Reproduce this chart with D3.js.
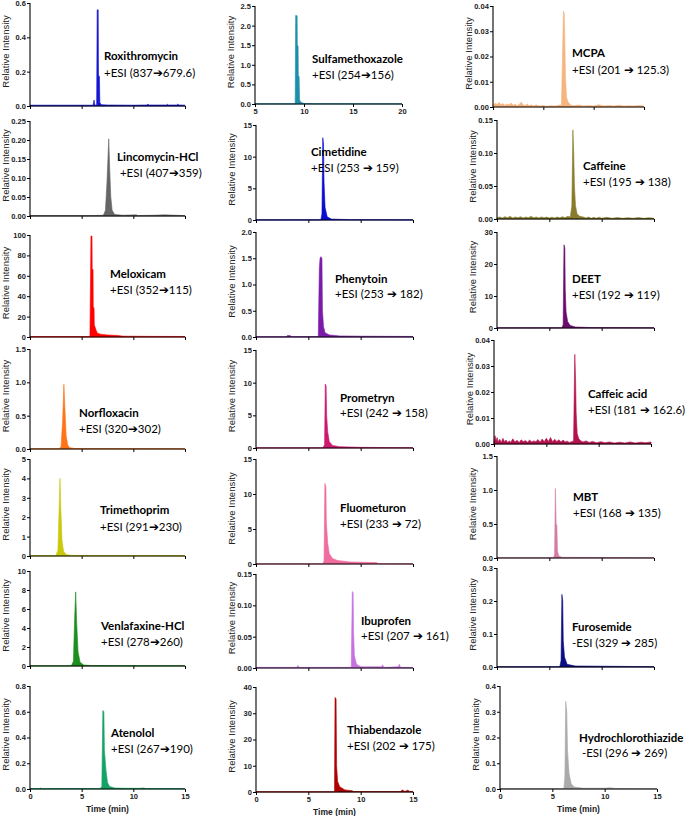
<!DOCTYPE html>
<html><head><meta charset="utf-8">
<script src="https://cdn.jsdelivr.net/npm/d3@7"></script>
<style>body{margin:0;background:#fff}svg{display:block}</style>
</head><body><svg id="c" width="685" height="816"></svg>
<script>
// ---------------- DATA ----------------
const compounds = ["Roxithromycin","Lincomycin-HCl","Meloxicam","Norfloxacin","Trimethoprim","Venlafaxine-HCl","Atenolol",
  "Sulfamethoxazole","Cimetidine","Phenytoin","Prometryn","Fluometuron","Ibuprofen","Thiabendazole",
  "MCPA","Caffeine","DEET","Caffeic acid","MBT","Furosemide","Hydrochlorothiazide"];
const transitions = ["+ESI (837\u2794679.6)"," +ESI (407\u2794359)","+ESI (352\u2794115)","+ESI (320\u2794302)","+ESI (291\u2794230)","+ESI (278\u2794260)","+ESI (267\u2794190)",
  "+ESI (254\u2794156)","+ESI (253 \u2794 159)","+ESI (253 \u2794 182)","+ESI (242 \u2794 158)","+ESI (233 \u2794 72)","+ESI (207 \u2794 161)","+ESI (202 \u2794 175)",
  "+ESI (201 \u2794 125.3)","+ESI (195 \u2794 138)","+ESI (192 \u2794 119)","+ESI (181 \u2794 162.6)","+ESI (168 \u2794 135)","-ESI (329 \u2794 285)"," -ESI (296 \u2794 269)"];
const colors = ["#1414d2","#666666","#ff0000","#ff7417","#c9c90c","#1e8f1e","#14a266",
  "#1d8fab","#0c0cd0","#7a1ca8","#cc1a6e","#f06c9e","#c670e2","#b00000",
  "#f6b47e","#887c2c","#6a0c6e","#b3124f","#d27ca6","#0c0c84","#aaaaaa"];
const yTicks = [[0,0.2,0.4,0.6],[0,0.05,0.1,0.15,0.2,0.25],[0,20,40,60,80,100],[0,0.5,1,1.5],[0,1,2,3,4,5],[0,2,4,6,8,10],[0,0.2,0.4,0.6,0.8],
  [0,0.5,1,1.5,2,2.5],[0,5,10,15],[0,0.5,1,1.5,2],[0,5,10,15],[0,5,10,15],[0,0.05,0.1,0.15],[0,10,20,30,40],
  [0,0.01,0.02,0.03,0.04],[0,0.05,0.1,0.15],[0,10,20,30],[0,0.01,0.02,0.03,0.04],[0,0.5,1,1.5],[0,0.1,0.2,0.3],[0,0.1,0.2,0.3,0.4]];
const yDecimals = [1,2,0,1,0,0,1, 1,0,1,0,0,2,0, 2,2,0,2,1,1,1];
const xTicks = [0,5,10,15];
const xTicksSulfa = [5,10,15,20];
const xTitle = "Time (min)";
const yTitle = "Relative Intensity";

// chromatogram traces [time (min), intensity]
const trRoxithromycin = [[0,0.005],[2,0.005],[4,0.005],[6.1,0.005],[6.2,0.035],[6.28,0.005],[6.45,0.006],[6.5,0.56],[6.6,0.56],[6.63,0.18],[6.72,0.17],[6.76,0.02],[6.9,0.008],[7.5,0.006],[10,0.005],[11.3,0.006],[11.4,0.012],[11.5,0.006],[13.2,0.006],[13.3,0.01],[13.4,0.006],[14.2,0.006],[14.3,0.011],[14.4,0.006],[15,0.005]];
const trLincomycin = [[0,0.001],[6,0.001],[7.1,0.002],[7.3,0.015],[7.45,0.09],[7.62,0.203],[7.72,0.12],[7.82,0.05],[7.95,0.015],[8.2,0.004],[9,0.002],[10.3,0.003],[10.4,0.001],[12,0.002],[13,0.003],[15,0.001]];
const trMeloxicam = [[0,0.4],[5.8,0.4],[5.9,99],[6.0,99],[6.02,67],[6.1,66],[6.12,30],[6.2,28],[6.22,12],[6.35,8],[6.5,4],[6.8,2.8],[7.5,2],[8.5,1.5],[9.0,0.8],[12,0.6],[15,0.5]];
const trNorfloxacin = [[0,0.005],[2.8,0.005],[3.0,0.03],[3.15,0.4],[3.28,0.97],[3.38,0.6],[3.5,0.2],[3.65,0.06],[3.85,0.02],[4.3,0.008],[15,0.005]];
const trTrimethoprim = [[0,0.02],[2.5,0.02],[2.7,0.3],[2.82,2.5],[2.9,4.0],[2.98,2.5],[3.1,0.8],[3.25,0.25],[3.5,0.08],[4,0.03],[15,0.02]];
const trVenlafaxine = [[0,0.03],[4.0,0.03],[4.2,0.5],[4.32,5],[4.42,7.8],[4.52,4.5],[4.65,1.5],[4.85,0.4],[5.2,0.1],[6,0.05],[15,0.03]];
const trAtenolol = [[0,0.003],[0.9,0.003],[1.0,0.008],[1.1,0.003],[6.8,0.004],[6.95,0.02],[7.05,0.61],[7.15,0.6],[7.2,0.3],[7.35,0.15],[7.5,0.05],[7.7,0.02],[8.2,0.008],[9,0.006],[10.5,0.005],[11,0.008],[11.2,0.004],[15,0.003]];
const trSulfamethoxazole = [[5,0.005],[7,0.005],[7.1,0.01],[7.2,0.005],[9.1,0.005],[9.15,2.26],[9.3,2.25],[9.32,1.5],[9.4,1.48],[9.42,0.72],[9.5,0.7],[9.55,0.1],[9.7,0.04],[10,0.015],[10.6,0.01],[10.7,0.02],[10.8,0.008],[20,0.005]];
const trCimetidine = [[0,0.02],[6.2,0.03],[6.3,1],[6.38,13],[6.45,12],[6.5,6],[6.6,2],[6.8,0.5],[7.2,0.15],[9,0.05],[15,0.03]];
const trPhenytoin = [[0,0.005],[2.9,0.005],[3.0,0.03],[3.3,0.025],[3.4,0.005],[5.95,0.01],[6.05,1.3],[6.12,1.5],[6.2,1.53],[6.3,1.5],[6.35,0.5],[6.45,0.2],[6.6,0.08],[7,0.04],[8,0.02],[10,0.015],[15,0.01]];
const trPrometryn = [[0,0.02],[6.4,0.03],[6.55,0.5],[6.62,9.8],[6.7,9.5],[6.75,5],[6.85,2.5],[7.0,1],[7.3,0.4],[8,0.2],[10,0.1],[15,0.05]];
const trFluometuron = [[0,0.02],[6.4,0.03],[6.5,0.5],[6.58,11.5],[6.68,11],[6.72,6],[6.85,3],[7.0,1.5],[7.3,0.8],[7.8,0.5],[9,0.3],[11.5,0.2],[11.7,0.05],[15,0.03]];
const trIbuprofen = [[0,0.001],[3.9,0.001],[4.0,0.004],[4.1,0.001],[9.1,0.001],[9.2,0.122],[9.28,0.12],[9.32,0.06],[9.4,0.02],[9.6,0.006],[10,0.002],[12,0.002],[12.1,0.005],[12.2,0.001],[13.6,0.002],[13.7,0.006],[13.8,0.001],[15,0.001]];
const trThiabendazole = [[0,0.1],[7.5,0.1],[7.55,36],[7.65,35.5],[7.7,10],[7.8,4],[8,2],[8.5,0.8],[9.2,0.5],[9.3,0.2],[13.8,0.2],[14,0.8],[14.2,0.2],[14.5,0.7],[14.7,0.2],[15,0.2]];
const trMCPA = [[0,0.0008],[0.2,0.0015],[0.4,0.001],[0.6,0.0018],[0.8,0.0009],[1.0,0.0014],[1.2,0.0006],[1.4,0.0012],[1.6,0.0008],[1.8,0.0016],[2.0,0.0007],[2.2,0.0011],[2.4,0.0005],[2.6,0.001],[2.8,0.0019],[3.0,0.0008],[3.2,0.0006],[3.4,0.0012],[3.6,0.0005],[3.8,0.0009],[4.0,0.0004],[4.3,0.0008],[4.6,0.0004],[5.0,0.0006],[5.3,0.0003],[5.7,0.0005],[6.2,0.0004],[6.8,0.0009],[7.0,0.038],[7.08,0.037],[7.12,0.029],[7.2,0.012],[7.3,0.004],[7.45,0.002],[7.7,0.0008],[8,0.0005],[8.5,0.0008],[9,0.0004],[9.5,0.0006],[10,0.0004],[10.5,0.0009],[11,0.0004],[11.5,0.0006],[12,0.0004],[12.5,0.0007],[13,0.0004],[13.5,0.0005],[14,0.0004],[14.5,0.0006],[15,0.0004]];
const trCaffeine = [[0,0.002],[0.25,0.003],[0.5,0.0015],[0.75,0.0035],[1,0.002],[1.25,0.004],[1.5,0.0015],[1.75,0.003],[2,0.002],[2.25,0.0035],[2.5,0.0015],[2.75,0.003],[3,0.002],[3.25,0.004],[3.5,0.0018],[3.75,0.003],[4,0.0015],[4.25,0.0032],[4.5,0.0018],[4.75,0.003],[5,0.0015],[5.25,0.0028],[5.5,0.0015],[5.75,0.003],[6,0.0018],[6.25,0.0035],[6.5,0.002],[6.75,0.004],[7.0,0.003],[7.15,0.02],[7.25,0.135],[7.33,0.1],[7.4,0.05],[7.5,0.02],[7.65,0.008],[7.9,0.004],[8.25,0.003],[8.5,0.0015],[8.75,0.003],[9,0.0012],[9.25,0.0025],[9.5,0.0012],[9.75,0.0028],[10,0.0012],[10.5,0.0025],[11,0.001],[11.5,0.0022],[12,0.001],[12.5,0.002],[13,0.001],[13.5,0.0022],[14,0.001],[14.5,0.002],[15,0.001]];
const trDEET = [[0,0.05],[6.2,0.06],[6.32,1],[6.4,26],[6.48,25],[6.52,12],[6.6,5],[6.75,2],[7.0,0.8],[7.5,0.3],[9,0.15],[15,0.08]];
const trCaffeicAcid = [[0,0.0008],[0.1,0.0032],[0.2,0.0012],[0.3,0.0025],[0.4,0.0008],[0.55,0.0018],[0.7,0.0006],[0.85,0.0022],[1.0,0.0009],[1.15,0.0015],[1.3,0.0006],[1.45,0.0012],[1.6,0.0007],[1.8,0.002],[2.0,0.0008],[2.2,0.0014],[2.4,0.0006],[2.6,0.0016],[2.8,0.0009],[3.0,0.0013],[3.2,0.0007],[3.4,0.0015],[3.6,0.0008],[3.8,0.0012],[4.0,0.0009],[4.2,0.0017],[4.4,0.0007],[4.6,0.0019],[4.8,0.0009],[5.0,0.0022],[5.2,0.001],[5.4,0.0025],[5.6,0.0009],[5.8,0.0018],[6.0,0.001],[6.2,0.0016],[6.4,0.0008],[6.6,0.0015],[6.8,0.0008],[7.0,0.0011],[7.2,0.0006],[7.6,0.0012],[7.72,0.0345],[7.8,0.024],[7.85,0.012],[7.95,0.004],[8.1,0.002],[8.3,0.0012],[8.5,0.0008],[8.8,0.0012],[9.1,0.0006],[9.4,0.001],[9.8,0.0005],[10.2,0.0009],[10.6,0.0005],[11,0.0008],[11.5,0.0004],[12,0.0007],[12.5,0.0004],[13,0.0008],[13.5,0.0004],[14,0.0007],[14.5,0.0005],[15,0.0008]];
const trMBT = [[0,0.005],[5.4,0.005],[5.5,0.05],[5.58,1.02],[5.65,0.5],[5.72,0.48],[5.78,0.1],[5.9,0.03],[6.2,0.01],[15,0.005]];
const trFurosemide = [[0,0.001],[6.0,0.001],[6.12,0.02],[6.2,0.22],[6.28,0.2],[6.33,0.08],[6.45,0.03],[6.7,0.008],[7.5,0.003],[15,0.001]];
const trHydrochlorothiazide = [[0,0.001],[6.1,0.001],[6.2,0.05],[6.28,0.34],[6.38,0.3],[6.45,0.15],[6.6,0.06],[6.8,0.02],[7.1,0.008],[8,0.003],[10,0.003],[10.5,0.005],[11,0.002],[15,0.001]];

const traces = [trRoxithromycin,trLincomycin,trMeloxicam,trNorfloxacin,trTrimethoprim,trVenlafaxine,trAtenolol,
  trSulfamethoxazole,trCimetidine,trPhenytoin,trPrometryn,trFluometuron,trIbuprofen,trThiabendazole,
  trMCPA,trCaffeine,trDEET,trCaffeicAcid,trMBT,trFurosemide,trHydrochlorothiazide];

// ---------------- LAYOUT ----------------
// [x0, x1, yTop, yBottom]
const boxes = [
 [30,185,3,106],[30,185,121,216],[30,185,235,337],[30,185,349,449],[30,185,459,556],[30,185,571,666],[30,185,686,789],
 [255,402,6,104],[256,413,125,220],[256,413,232,337],[256,413,350,448],[256,413,459,564],[256,413,574,668],[256,413,687,792],
 [493,644,6,107],[497,654,120,219],[497,654,232,328],[494,651,340,444],[497,654,456,558],[497,654,568,667],[500,657,686,789]];
// [x, baseline1, baseline2]
const labelPos = [
 [104,60,77],[117,161,177],[110,278,294],[79,417,433],[100,514,531],[101,630,646],[111,737,753],
 [312,63,79],[311,156,172],[335,283,298],[340,402,417],[340,512,528],[361,625,640],[347,734,750],
 [572,57,74],[583,170,186],[572,283,299],[588,398,414],[573,501,517],[572,631,647],[579,742,757]];
const showXLabels = i => i===6 || i===13 || i===20 || i===7;

const svg = d3.select("#c");
compounds.forEach((name,i)=>{
  const [x0,x1,yt,yb] = boxes[i];
  const xd = i===7 ? [5,20] : [0,15];
  const x = d3.scaleLinear().domain(xd).range([x0,x1]);
  const yt_ = yTicks[i];
  const y = d3.scaleLinear().domain([0, yt_[yt_.length-1]]).range([yb,yt]);
  const g = svg.append("g");
  const area = d3.area().x(d=>x(d[0])).y0(y(0)).y1(d=>y(d[1]));
  g.append("path").datum(traces[i]).attr("d",area).attr("fill",colors[i]).attr("stroke",colors[i]).attr("stroke-width",0.6);
  const ya = d3.axisLeft(y).tickValues(yt_).tickSize(3).tickPadding(1.2).tickFormat(d3.format("."+yDecimals[i]+"f"));
  const gy = g.append("g").attr("transform",`translate(${x0},0)`).call(ya);
  const xa = d3.axisBottom(x).tickValues(i===7?xTicksSulfa:xTicks).tickSize(3).tickPadding(2)
     .tickFormat(showXLabels(i)? d3.format("d") : "");
  const gx = g.append("g").attr("transform",`translate(0,${yb})`).call(xa);
  [gy,gx].forEach(a=>{
    a.select(".domain").attr("stroke","#000").attr("stroke-width",1.1);
    a.selectAll(".tick line").attr("stroke","#000").attr("stroke-width",1);
    a.selectAll("text").attr("font-family","Liberation Sans, Arial, sans-serif").attr("font-size",7.5).attr("font-weight","bold").attr("fill","#222");
    a.attr("font-family",null).attr("font-size",null);
  });
  gx.select(".domain").attr("d",`M${x0},0H${x1}`);
  gy.select(".domain").attr("d",`M0,${yb}V${yt}`);
  g.append("text").attr("transform",`translate(${x0-21},${(yt+yb)/2-3}) rotate(-90)`)
    .attr("text-anchor","middle").attr("font-family","Liberation Sans, Arial, sans-serif")
    .attr("font-size",9.5).attr("fill","#222").text(yTitle);
  if (i===6||i===13||i===20){
    g.append("text").attr("x",(x0+x1)/2).attr("y",yb+23).attr("text-anchor","middle")
      .attr("font-family","Liberation Sans, Arial, sans-serif").attr("font-weight","bold").attr("font-size",8.5).attr("fill","#222").text(xTitle);
  }
  const [lx,l1,l2] = labelPos[i];
  g.append("text").attr("x",lx).attr("y",l1).attr("font-family","Lato, 'Open Sans', sans-serif").attr("font-weight","bold")
   .attr("font-size",11.5).attr("fill","#000").text(name);
  g.append("text").attr("x",lx).attr("y",l2).attr("font-family","Lato, 'Open Sans', sans-serif")
   .attr("font-size",11.5).attr("fill","#000").style("white-space","pre").text(transitions[i]);
});
</script></body></html>
